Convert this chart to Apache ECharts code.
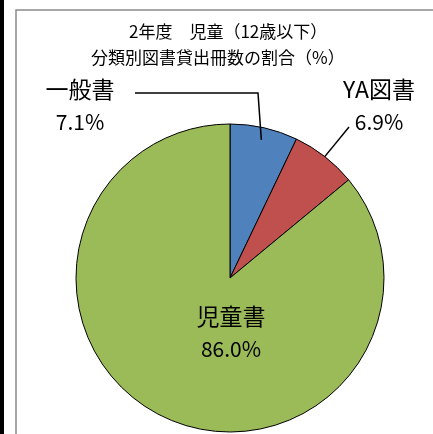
<!DOCTYPE html>
<html>
<head>
<meta charset="utf-8">
<script src="https://cdn.jsdelivr.net/npm/echarts@6/dist/echarts.min.js"></script>
<style>
  html, body { margin: 0; padding: 0; background: #fff; }
  #chart { width: 433px; height: 434px; }
</style>
</head>
<body>
<div id="chart"></div>
<script>
var categories = ["一般書", "YA図書", "児童書"];
var shares = [7.1, 6.9, 86.0];
var titleLines = ["2年度　児童（12歳以下）", "分類別図書貸出冊数の割合（%）"];

var colors = ["#4F81BD", "#C0504D", "#9BBB59"];
var font = '"Noto Sans CJK JP", "Noto Sans", sans-serif';
var cx = 230, cy = 278, R = 154;

// where each label block (name + percent) sits
var labelPos = [[80, 106], [379, 106], [231, 333]];

// point inside a slice at its middle angle (clockwise from 12 o'clock)
function sliceMid(i, rFrac) {
  var total = shares.reduce(function (a, b) { return a + b; }, 0);
  var before = 0;
  for (var k = 0; k < i; k++) before += shares[k];
  var a = (before + shares[i] / 2) / total * 2 * Math.PI;
  return [cx + R * rFrac * Math.sin(a), cy - R * rFrac * Math.cos(a)];
}

var chart = echarts.init(document.getElementById("chart"));

var p0 = sliceMid(0, 0.92);
var p1 = sliceMid(1, 1.0);

chart.setOption({
  backgroundColor: "#fff",
  animation: false,
  title: [
    {
      text: titleLines[0],
      left: 129,
      top: 23,
      padding: 0,
      textStyle: { fontFamily: font, fontSize: 17, fontWeight: "normal", color: "#000" }
    },
    {
      text: titleLines[1],
      left: 91,
      top: 49,
      padding: 0,
      textStyle: { fontFamily: font, fontSize: 17, fontWeight: "normal", color: "#000" }
    }
  ],
  graphic: [
    { type: "rect", shape: { x: 0, y: 0, width: 4, height: 434 }, style: { fill: "#000" }, silent: true },
    { type: "rect", shape: { x: 16, y: 10, width: 600, height: 600 }, style: { fill: "none", stroke: "#8a8a8a", lineWidth: 1.5 }, silent: true, z: -1 },
    {
      type: "polyline",
      shape: { points: [[135, 93], [258, 93], p0] },
      style: { stroke: "#000", lineWidth: 1.5, fill: "none" },
      z: 10
    },
    {
      type: "polyline",
      shape: { points: [[349, 127], p1] },
      style: { stroke: "#000", lineWidth: 1.5, fill: "none" },
      z: 10
    }
  ],
  series: [
    {
      type: "pie",
      center: [cx, cy],
      radius: R,
      startAngle: 90,
      clockwise: true,
      avoidLabelOverlap: false,
      itemStyle: { borderColor: "#000", borderWidth: 1 },
      label: {
        show: true,
        fontFamily: font,
        formatter: function (p) {
          return "{n|" + p.name + "}\n{v|" + p.value.toFixed(1) + "%}";
        },
        rich: {
          n: { fontFamily: font, fontSize: 23, lineHeight: 33, color: "#000" },
          v: { fontFamily: font, fontSize: 21, lineHeight: 33, color: "#000" }
        }
      },
      labelLine: { show: false },
      labelLayout: function (params) {
        var pos = labelPos[params.dataIndex];
        return { x: pos[0], y: pos[1], align: "center", verticalAlign: "middle" };
      },
      data: categories.map(function (c, i) {
        return { name: c, value: shares[i], itemStyle: { color: colors[i] } };
      })
    }
  ]
});
</script>
</body>
</html>
